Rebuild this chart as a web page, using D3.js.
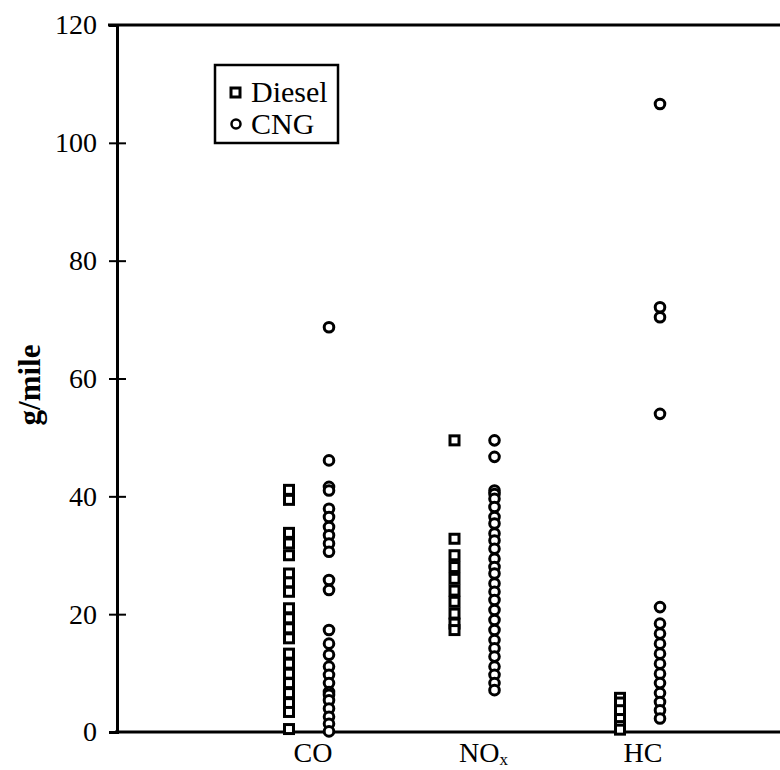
<!DOCTYPE html>
<html>
<head>
<meta charset="utf-8">
<script src="https://cdn.jsdelivr.net/npm/d3@7"></script>
<style>
  html, body { margin: 0; padding: 0; background: #fff; }
  svg text { font-family: "Liberation Serif", "Times New Roman", serif; fill: #000; }
</style>
</head>
<body>
<svg id="chart" width="780" height="770"></svg>
<script>
// Emission categories and fuel types
const categories = ["CO", "NOx", "HC"];
const fuels = ["Diesel", "CNG"];
const yTicks = [0, 20, 40, 60, 80, 100, 120];

// Per-vehicle emissions, g/mile
const coDiesel = [41.1, 39.4, 33.8, 32.0, 30.0, 26.9, 25.4, 23.8, 21.0, 19.3, 17.6, 15.9, 13.3, 11.6, 9.9, 8.3, 6.6, 4.9, 3.4, 0.5];
const coCNG = [68.7, 46.1, 41.6, 41.0, 37.9, 36.5, 34.8, 33.4, 32.0, 30.6, 25.8, 24.1, 17.3, 15.0, 13.1, 11.1, 9.7, 8.3, 6.8, 6.3, 5.4, 4.0, 2.6, 1.4, 0.1];
const noxDiesel = [49.5, 32.8, 30.0, 28.0, 26.0, 24.0, 22.1, 20.1, 18.4, 17.3];
const noxCNG = [49.5, 46.7, 41.0, 40.4, 39.6, 38.2, 36.5, 35.4, 33.7, 32.5, 31.1, 29.4, 28.0, 26.9, 25.2, 23.8, 22.4, 20.7, 19.0, 17.3, 15.6, 14.2, 12.8, 11.1, 9.7, 8.3, 7.1];
const hcDiesel = [5.8, 5.0, 3.7, 2.2, 1.0, 0.4];
const hcCNG = [106.6, 72.1, 70.4, 54.0, 21.2, 18.4, 16.7, 15.0, 13.3, 11.6, 9.9, 8.3, 6.6, 5.1, 3.7, 2.3];

const seriesValues = {
  CO:  { Diesel: coDiesel,  CNG: coCNG },
  NOx: { Diesel: noxDiesel, CNG: noxCNG },
  HC:  { Diesel: hcDiesel,  CNG: hcCNG }
};

const svg = d3.select("#chart");

const y = d3.scaleLinear().domain([0, 120]).range([732, 25]);
const x = d3.scalePoint().domain(categories).range([309, 640]);
const xFuel = d3.scalePoint().domain(fuels).range([-20, 20]);
const axisX = 117;

// Frame: top border and baseline run off the right edge
svg.append("line")
  .attr("x1", 108).attr("x2", 780)
  .attr("y1", y(120)).attr("y2", y(120))
  .attr("stroke", "#000").attr("stroke-width", 3);
svg.append("line")
  .attr("x1", 115).attr("x2", 780)
  .attr("y1", y(0)).attr("y2", y(0))
  .attr("stroke", "#000").attr("stroke-width", 3);

// Y axis with ticks crossing the axis line
const yAxis = svg.append("g")
  .attr("transform", `translate(${axisX},0)`)
  .call(d3.axisLeft(y).tickValues(yTicks).tickSize(8).tickPadding(12).tickFormat(d3.format("d")));
yAxis.select(".domain").attr("stroke", "#000").attr("stroke-width", 3);
yAxis.selectAll(".tick line").attr("x1", 9).attr("x2", -8).attr("stroke", "#000").attr("stroke-width", 2);
yAxis.selectAll(".tick").filter(d => d === 0 || d === 120).select("line").attr("x1", 0);
yAxis.selectAll(".tick text").attr("font-size", 28).attr("font-family", "Liberation Serif").attr("fill", "#000");

// Axis title
svg.append("text")
  .attr("transform", `translate(40,385) rotate(-90)`)
  .attr("text-anchor", "middle")
  .attr("font-size", 31).attr("font-weight", "bold")
  .text("g/mile");

// Category labels under the baseline
const catLabels = svg.append("g");
const labelShift = { CO: 4, NOx: 9, HC: 3 };
categories.forEach(c => {
  const t = catLabels.append("text")
    .attr("x", x(c) + labelShift[c]).attr("y", 762)
    .attr("text-anchor", "middle")
    .attr("font-size", 28);
  if (c === "NOx") {
    t.append("tspan").text("NO");
    t.append("tspan").attr("font-size", 17).attr("dy", 3).text("x");
  } else {
    t.text(c);
  }
});

// Markers
const sq = 9, r = 4.8;
categories.forEach(c => {
  const gd = svg.append("g");
  gd.selectAll("rect").data(seriesValues[c].Diesel).join("rect")
    .attr("x", x(c) + xFuel("Diesel") - sq / 2)
    .attr("y", d => y(d) - sq / 2)
    .attr("width", sq).attr("height", sq)
    .attr("fill", "#fff").attr("stroke", "#000").attr("stroke-width", 3);
  const gc = svg.append("g");
  gc.selectAll("circle").data(seriesValues[c].CNG).join("circle")
    .attr("cx", x(c) + xFuel("CNG"))
    .attr("cy", d => y(d))
    .attr("r", r)
    .attr("fill", "#fff").attr("stroke", "#000").attr("stroke-width", 3);
});

// Legend
const lg = svg.append("g");
lg.append("rect").attr("x", 215).attr("y", 65).attr("width", 123).attr("height", 78)
  .attr("fill", "#fff").attr("stroke", "#000").attr("stroke-width", 2.5);
lg.append("rect").attr("x", 231).attr("y", 88).attr("width", 9).attr("height", 9)
  .attr("fill", "#fff").attr("stroke", "#000").attr("stroke-width", 3);
lg.append("text").attr("x", 251).attr("y", 102).attr("font-size", 30).text("Diesel");
lg.append("circle").attr("cx", 236).attr("cy", 124).attr("r", 4.5)
  .attr("fill", "#fff").attr("stroke", "#000").attr("stroke-width", 2.5);
lg.append("text").attr("x", 251).attr("y", 134).attr("font-size", 30).text("CNG");
</script>
</body>
</html>
